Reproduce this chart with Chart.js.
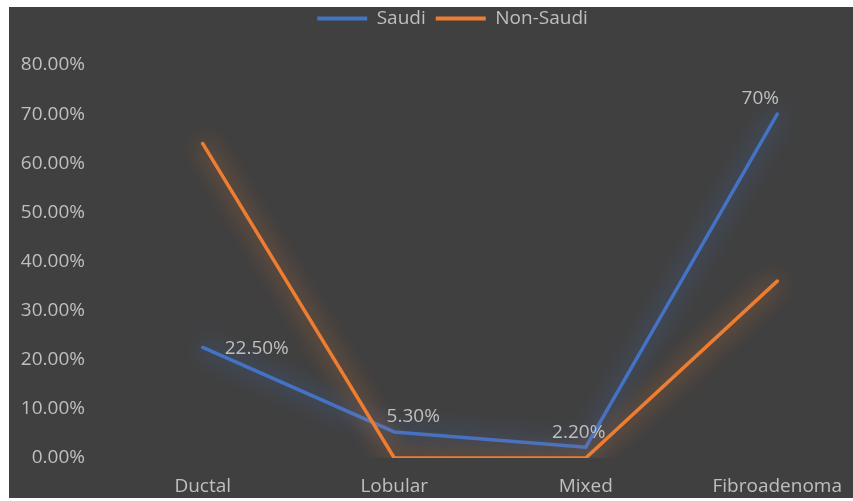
<!DOCTYPE html>
<html>
<head>
<meta charset="utf-8">
<title>Saudi / Non-Saudi</title>
<style>
    html, body { margin: 0; padding: 0; background: #ffffff; overflow: hidden; }
    #marco { position: absolute; left: 9px; top: 7px; width: 870px; height: 491px; }
    #grafico { background: #404040; display: block; }
</style>
</head>
<body>
    <div id="marco">
        <canvas id="grafico" width="870" height="491"></canvas>
    </div>

    <script src="https://cdn.jsdelivr.net/npm/chart.js@4.4.0/dist/chart.umd.min.js"></script>
    <script>
        // Datos
        const categorias = ['Ductal', 'Lobular', 'Mixed', 'Fibroadenoma'];
        const saudi = [22.5, 5.3, 2.2, 70];
        const noSaudi = [64, 0, 0, 36];
        const ejeMin = 0;
        const ejeMax = 80;
        const ejePaso = 10;

        const colorTexto = '#bfbfbf';
        const fuente = '"Open Sans", "Noto Sans", sans-serif';
        const tamFuente = 19;

        // 70 -> "70%", 22.5 -> "22.50%"
        function formatoPct(v) {
            return Number.isInteger(v) ? v + '%' : v.toFixed(2) + '%';
        }

        // Resplandor alrededor de cada linea
        const brillo = {
            id: 'brillo',
            beforeDatasetDraw(chart, args) {
                const ds = chart.data.datasets[args.index];
                chart.ctx.save();
                chart.ctx.shadowColor = ds.colorBrillo;
                chart.ctx.shadowBlur = 22;
            },
            afterDatasetDraw(chart) {
                chart.ctx.restore();
            }
        };

        // Etiquetas de valor de la serie Saudi
        const desplazamientos = [[54, 1], [19, -15], [-7, -15], [-17, -16]];
        const etiquetas = {
            id: 'etiquetas',
            afterDatasetsDraw(chart) {
                const meta = chart.getDatasetMeta(0);
                const ctx = chart.ctx;
                ctx.save();
                ctx.font = tamFuente + 'px ' + fuente;
                ctx.fillStyle = colorTexto;
                ctx.textAlign = 'center';
                ctx.textBaseline = 'middle';
                meta.data.forEach((pt, i) => {
                    const [dx, dy] = desplazamientos[i];
                    ctx.fillText(formatoPct(saudi[i]), pt.x + dx, pt.y + dy);
                });
                ctx.restore();
            }
        };

        // Alto fijo para la leyenda y un pequeño corrimiento a la derecha
        const ajusteLeyenda = {
            id: 'ajusteLeyenda',
            beforeInit(chart) {
                const fitOriginal = chart.legend.fit;
                chart.legend.fit = function () {
                    fitOriginal.bind(chart.legend)();
                    this.height = 66;
                };
            },
            afterLayout(chart) {
                chart.legend.left += 8;
                chart.legend.right += 8;
            }
        };

        const ctx = document.getElementById('grafico').getContext('2d');
        new Chart(ctx, {
            type: 'line',
            data: {
                labels: categorias,
                datasets: [{
                    label: 'Saudi',
                    data: saudi,
                    borderColor: '#4472c4',
                    backgroundColor: '#4472c4',
                    colorBrillo: 'rgba(68, 114, 196, 1)',
                    borderWidth: 3.5,
                    pointRadius: 0,
                    order: 1
                }, {
                    label: 'Non-Saudi',
                    data: noSaudi,
                    borderColor: '#ed7d31',
                    backgroundColor: '#ed7d31',
                    colorBrillo: 'rgba(237, 125, 49, 1)',
                    borderWidth: 3.5,
                    pointRadius: 0,
                    order: 0
                }]
            },
            options: {
                responsive: false,
                animation: false,
                layout: { padding: { left: 7, right: 6, top: -8, bottom: 0 } },
                elements: { line: { borderCapStyle: 'round', borderJoinStyle: 'miter', tension: 0 } },
                plugins: {
                    tooltip: { enabled: false },
                    legend: {
                        position: 'top',
                        labels: {
                            color: colorTexto,
                            font: { family: fuente, size: tamFuente },
                            boxWidth: 50,
                            boxHeight: 4,
                            padding: 10,
                            sort: (a, b) => a.datasetIndex - b.datasetIndex,
                            generateLabels(chart) {
                                return Chart.defaults.plugins.legend.labels.generateLabels(chart)
                                    .map(l => ({ ...l, fillStyle: l.strokeStyle, lineWidth: 0 }));
                            }
                        }
                    }
                },
                scales: {
                    x: {
                        offset: true,
                        grid: { display: false, drawTicks: false },
                        border: { display: false },
                        ticks: {
                            color: colorTexto,
                            font: { family: fuente, size: tamFuente },
                            padding: 17,
                            maxRotation: 0,
                            autoSkip: false
                        },
                        afterFit(s) { s.height = 40; }
                    },
                    y: {
                        min: ejeMin,
                        max: ejeMax,
                        grid: { display: false, drawTicks: false },
                        border: { display: false },
                        ticks: {
                            stepSize: ejePaso,
                            color: colorTexto,
                            font: { family: fuente, size: tamFuente },
                            padding: 22,
                            callback: v => v.toFixed(2) + '%'
                        },
                        afterFit(s) { s.width = 91; }
                    }
                }
            },
            plugins: [brillo, etiquetas, ajusteLeyenda]
        });
    </script>
</body>
</html>
